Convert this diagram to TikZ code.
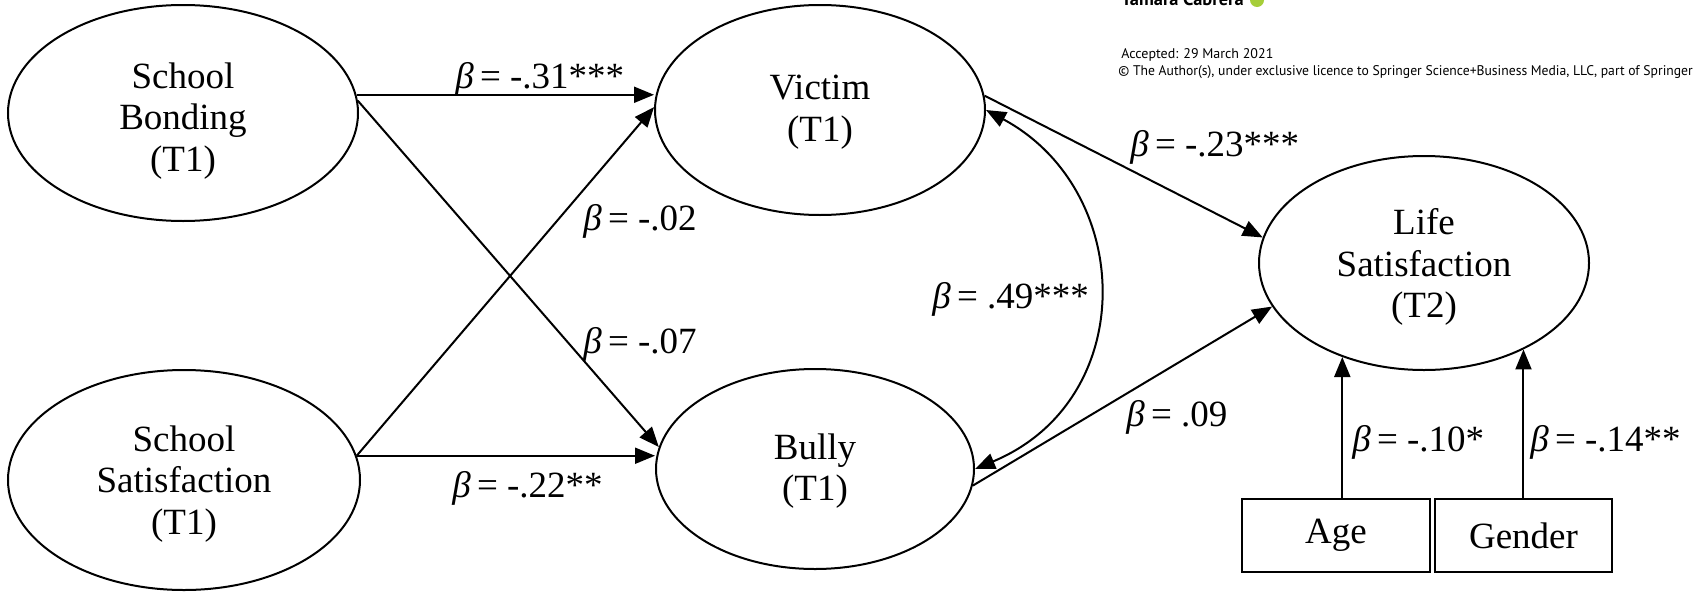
\documentclass[tikz,border=0pt]{standalone}
\usepackage{fontspec}
\setmainfont{Liberation Serif}
\newfontfamily\hdrfont{PT Sans}
\usetikzlibrary{arrows.meta,shapes.geometric}
\newcommand{\diagfont}{\fontsize{18.5}{20.75}\selectfont}
\newcommand{\betasym}{{\itshape β}}
\definecolor{orcidgreen}{HTML}{A6CE39}
\begin{document}
\begin{tikzpicture}[x=0.5pt,y=-0.5pt,
  lat/.style={ellipse,draw,line width=1pt,inner sep=0pt},
  txt/.style={inner sep=0pt,align=center,font=\diagfont},
  obs/.style={rectangle,draw,line width=1pt,inner sep=0pt,font=\diagfont},
  pth/.style={line width=1pt,-{Triangle[length=10pt,width=8pt]}},
  cov/.style={line width=1pt,{Triangle[length=10pt,width=8pt]}-{Triangle[length=10pt,width=8pt]}},
  coef/.style={anchor=base west,inner sep=0pt,font=\diagfont},
  hdr/.style={anchor=base west,inner sep=0pt,font=\hdrfont\fontsize{7}{8}\selectfont}]
\useasboundingbox (0,0) rectangle (1695,594);
\fill[white] (0,0) rectangle (1695,594);
\clip (0,0) rectangle (1695,594);

% header fragment
\node[hdr,font=\hdrfont\bfseries\fontsize{9.2}{11}\selectfont] (author) at (1121,5) {Tamara Cabrera};
\fill[orcidgreen] (1257,0) circle (3.5pt);
\node[hdr] (acc) at (1121,58) {Accepted: 29 March 2021};
\node[hdr] (copy) at (1118,75) {\scalebox{0.975}[1]{© The Author(s), under exclusive licence to Springer Science+Business Media, LLC, part of Springer}};

% nodes
\node[lat,minimum width=175pt,minimum height=108pt] (bond) at (183,113) {};
\node[txt] (bondtxt) at ([yshift=-4pt]bond.center) {School\\Bonding\\(T1)};
\node[lat,minimum width=176pt,minimum height=110pt] (sats) at (184,480) {};
\node[txt] (satstxt) at ([yshift=-2pt]sats.center) {School\\Satisfaction\\(T1)};
\node[lat,minimum width=165pt,minimum height=105pt] (vict) at (820,110) {};
\node[txt] (victtxt) at ([yshift=-1pt]vict.center) {Victim\\(T1)};
\node[lat,minimum width=159pt,minimum height=100pt] (bull) at (815,469) {};
\node[txt] (bulltxt) at ([yshift=-1pt]bull.center) {Bully\\(T1)};
\node[lat,minimum width=165pt,minimum height=107pt] (life) at (1424,263) {};
\node[txt] (lifetxt) at ([yshift=-2pt]life.center) {Life\\Satisfaction\\(T2)};
\node[obs,minimum width=94pt,minimum height=36.5pt] (age) at (1336,535.5) {Age};
\node[obs,minimum width=88.5pt,minimum height=36.5pt] (gend) at (1523.5,535.5) {Gender};

% paths
\draw[pth] (bond.6) -- (bond.6 -| vict.west);
\draw[pth] (bond.4) -- (bull.172);
\draw[pth] (sats.8) -- (vict.179);
\draw[pth] (sats.8) -- (sats.8 -| bull.west);
\draw[pth] (vict.5) -- (life.171);
\draw[pth] (bull.-6) -- (life.196);
\draw[cov] (vict.east) .. controls (1135,190) and (1140,400) .. (bull.east);
\draw[pth] (life.229 |- age.north) -- (life.229);
\draw[pth] (life.319 |- gend.north) -- (life.319);

% coefficients
\node[coef] (c1) at (455,88) {\betasym\,= -.31***};
\node[coef] (c2) at (583,230) {\betasym\,= -.02};
\node[coef] (c3) at (583,353) {\betasym\,= -.07};
\node[coef] (c4) at (452,497) {\betasym\,= -.22**};
\node[coef] (c5) at (932,308) {\betasym\,= .49***};
\node[coef] (c6) at (1130,156) {\betasym\,= -.23***};
\node[coef] (c7) at (1126,426) {\betasym\,= .09};
\node[coef] (c8) at (1352,451) {\betasym\,= -.10*};
\node[coef] (c9) at (1530,451) {\betasym\,= -.14**};
\end{tikzpicture}
\end{document}
